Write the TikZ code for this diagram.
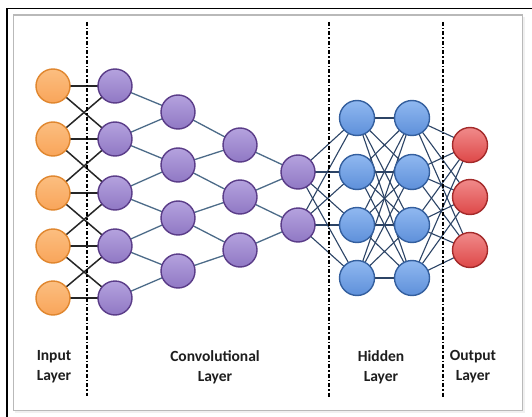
\documentclass[tikz,border=0pt]{standalone}
\usepackage{fontspec}
\setmainfont{Carlito}
\usetikzlibrary{backgrounds}
\definecolor{orfill}{HTML}{F9A55A}
\definecolor{orfillt}{HTML}{FBBE80}
\definecolor{ordraw}{HTML}{E0862E}
\definecolor{pufill}{HTML}{9078C4}
\definecolor{pufillt}{HTML}{B4A2DE}
\definecolor{pudraw}{HTML}{5A3C88}
\definecolor{blfill}{HTML}{5E90DA}
\definecolor{blfillt}{HTML}{90B8F0}
\definecolor{bldraw}{HTML}{345F9E}
\definecolor{rdfill}{HTML}{DE4848}
\definecolor{rdfillt}{HTML}{F08A8A}
\definecolor{rddraw}{HTML}{A42A2A}
\definecolor{convline}{HTML}{4C6B88}
\definecolor{hidline}{HTML}{2C4466}
\definecolor{txt}{HTML}{1E1E1E}
\tikzset{
  neuron/.style={circle, minimum size=34pt, inner sep=0pt, line width=1.4pt},
  inneuron/.style={neuron, draw=ordraw, top color=orfillt, bottom color=orfill},
  convneuron/.style={neuron, draw=pudraw, top color=pufillt, bottom color=pufill},
  hidneuron/.style={neuron, minimum size=35pt, draw=bldraw, top color=blfillt, bottom color=blfill},
  outneuron/.style={neuron, minimum size=35pt, draw=rddraw, top color=rdfillt, bottom color=rdfill},
  inedge/.style={draw=black!85, line width=1.5pt},
  convedge/.style={draw=convline, line width=1.3pt},
  hidedge/.style={draw=hidline, line width=1.1pt},
  divider/.style={line width=1.8pt, dash pattern=on 4pt off 2pt on 1.5pt off 2pt},
  lbl/.style={font=\fontsize{15.5}{20}\selectfont\bfseries, text=txt, align=center}
}
\begin{document}
\begin{tikzpicture}[x=1pt,y=-1pt]
\useasboundingbox (0,0) rectangle (532,417);
% frame
\begin{pgfonlayer}{background}
\fill[white] (0,0) rectangle (532,417);
\draw[black, line width=1.4pt] (7,417) -- (7,8.5) -- (532,8.5);
\fill[gray!12] (15,17) rectangle (525,413);
\draw[gray!55, line width=1.2pt, fill=white] (13.5,15) rectangle (522.5,410.5);
\end{pgfonlayer}
% dividers
\draw[divider] (87,22) -- (87,396);
\draw[divider] (329,22) -- (329,397);
\draw[divider] (443,22) -- (443,397);
% input layer
\foreach \i/\y in {1/86,2/139,3/193,4/246,5/298}
  \node[inneuron] (in\i) at (53,\y) {};
% conv layers
\foreach \i/\y in {1/86,2/139,3/193,4/246,5/298}
  \node[convneuron] (ca\i) at (115,\y) {};
\foreach \i/\y in {1/112,2/165,3/218,4/271}
  \node[convneuron] (cb\i) at (178,\y) {};
\foreach \i/\y in {1/145,2/197,3/250}
  \node[convneuron] (cc\i) at (240,\y) {};
\foreach \i/\y in {1/172,2/225}
  \node[convneuron] (cd\i) at (298,\y) {};
% hidden
\foreach \i/\y in {1/118,2/172,3/225,4/278}
  \node[hidneuron] (ha\i) at (357,\y) {};
\foreach \i/\y in {1/118,2/172,3/225,4/278}
  \node[hidneuron] (hb\i) at (412,\y) {};
% output
\foreach \i/\y in {1/145,2/197,3/250}
  \node[outneuron] (out\i) at (470,\y) {};
% edges
\begin{pgfonlayer}{background}
\foreach \i in {1,...,5} \draw[inedge] (in\i.center) -- (ca\i.center);
\foreach \i/\j in {1/2,2/3,3/4,4/5} {
  \draw[inedge] (in\i.center) -- (ca\j.center);
  \draw[inedge] (in\j.center) -- (ca\i.center);
}
\foreach \i/\j in {1/2,2/3,3/4,4/5} {
  \draw[convedge] (ca\i.center) -- (cb\i.center);
  \draw[convedge] (ca\j.center) -- (cb\i.center);
}
\foreach \i/\j in {1/2,2/3,3/4} {
  \draw[convedge] (cb\i.center) -- (cc\i.center);
  \draw[convedge] (cb\j.center) -- (cc\i.center);
}
\foreach \i/\j in {1/2,2/3} {
  \draw[convedge] (cc\i.center) -- (cd\i.center);
  \draw[convedge] (cc\j.center) -- (cd\i.center);
}
\foreach \i in {1,2} \foreach \j in {1,...,4}
  \draw[hidedge] (cd\i.center) -- (ha\j.center);
\foreach \i in {1,...,4} \foreach \j in {1,...,4}
  \draw[hidedge] (ha\i.center) -- (hb\j.center);
\foreach \i in {1,...,4} \foreach \j in {1,2,3}
  \draw[hidedge] (hb\i.center) -- (out\j.center);
\end{pgfonlayer}
% labels
\node[lbl] (linput) at (54,367) {Input\\Layer};
\node[lbl] (lconv) at (215,367) {Convolutional\\Layer};
\node[lbl] (lhid) at (381,367) {Hidden\\Layer};
\node[lbl] (lout) at (473,367) {Output\\Layer};
\end{tikzpicture}
\end{document}
